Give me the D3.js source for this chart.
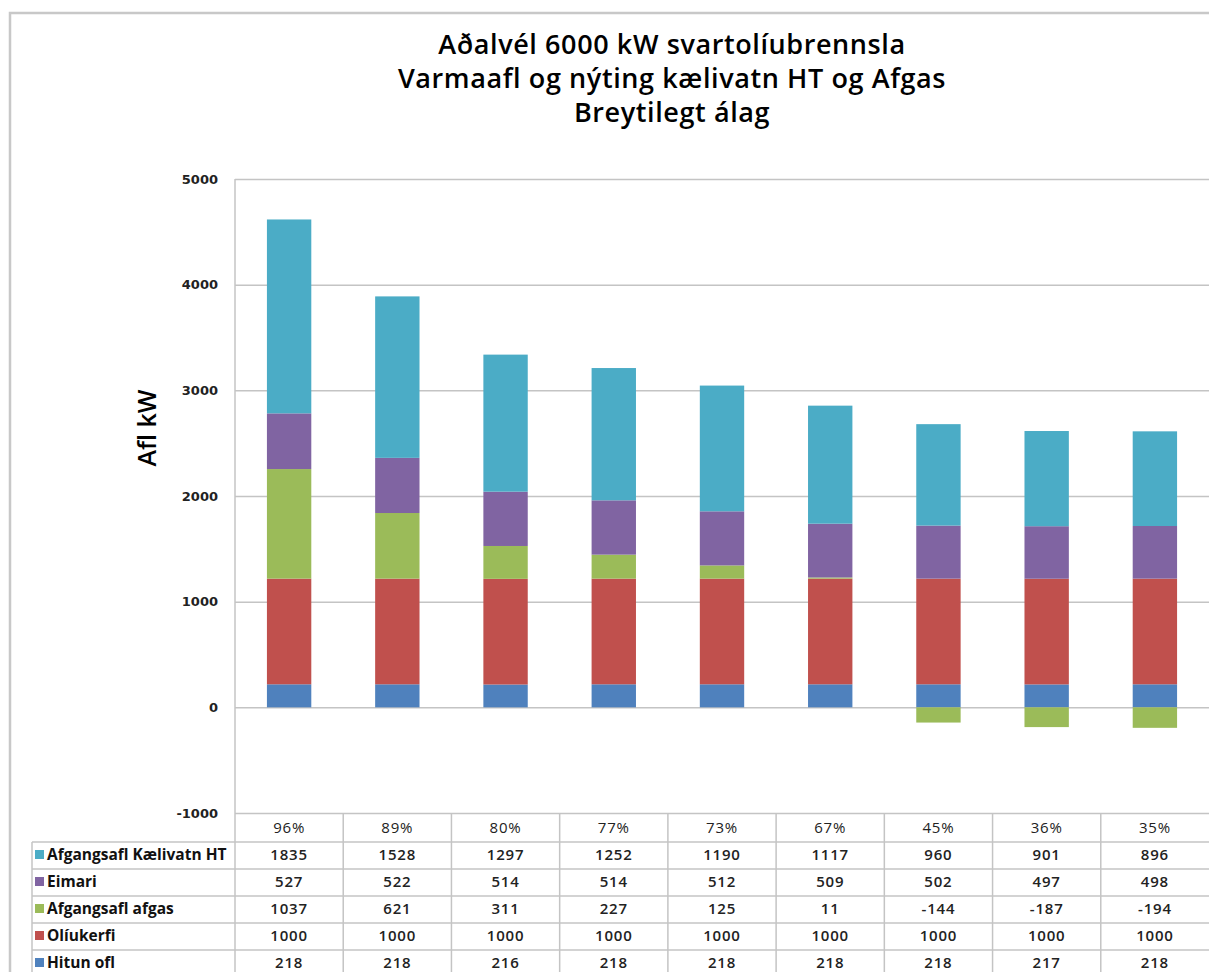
<!doctype html>
<html lang="is">
<head>
    <meta charset="UTF-8">
    <title>Aðalvél 6000 kW svartolíubrennsla</title>
    <script type="text/javascript" src="https://cdn.jsdelivr.net/npm/d3@7"></script>
    <style type="text/css">
        body { margin: 0; background: #fff; }
        svg { display: block; }
        .grid line { stroke: #c4c4c4; stroke-width: 1.5; }
        .grid path { display: none; }
    </style>
</head>
<body>
<script type="text/javascript">
    var categories = ["96%", "89%", "80%", "77%", "73%", "67%", "45%", "36%", "35%"];
    var hitun = [218, 218, 216, 218, 218, 218, 218, 217, 218];
    var oliukerfi = [1000, 1000, 1000, 1000, 1000, 1000, 1000, 1000, 1000];
    var afgas = [1037, 621, 311, 227, 125, 11, -144, -187, -194];
    var eimari = [527, 522, 514, 514, 512, 509, 502, 497, 498];
    var kaelivatn = [1835, 1528, 1297, 1252, 1190, 1117, 960, 901, 896];
    var yTicks = [-1000, 0, 1000, 2000, 3000, 4000, 5000];

    // stacking order, bottom first
    var series = [
        {key: "hitun", name: "Hitun ofl", color: "#4F81BD", values: hitun},
        {key: "olia", name: "Olíukerfi", color: "#C0504D", values: oliukerfi},
        {key: "afgas", name: "Afgangsafl afgas", color: "#9BBB59", values: afgas},
        {key: "eimari", name: "Eimari", color: "#8064A2", values: eimari},
        {key: "kaeli", name: "Afgangsafl Kælivatn HT", color: "#4BACC6", values: kaelivatn}
    ];

    var width = 1209;
    var height = 972;
    var plotL = 235, plotR = 1209, plotT = 179, plotB = 813;

    var svg = d3.select("body").append("svg").attr("width", width).attr("height", height);

    // outer chart border (clipped at right/bottom like the picture)
    svg.append("path")
        .attr("d", "M10,972 V13 H1209")
        .attr("fill", "none").attr("stroke", "#c8c8c8").attr("stroke-width", 2.5);

    // title
    var titleLines = ["Aðalvél 6000 kW svartolíubrennsla", "Varmaafl og nýting kælivatn HT og Afgas", "Breytilegt álag"];
    svg.selectAll("text.title")
        .data(titleLines)
        .enter()
        .append("text")
        .attr("class", "title")
        .attr("x", 672)
        .attr("y", function (d, i) { return 54 + i * 34; })
        .attr("text-anchor", "middle")
        .attr("font-family", "Open Sans")
        .attr("font-weight", 600)
        .attr("font-size", "27px")
        .attr("letter-spacing", "0.6px")
        .attr("fill", "#000")
        .text(function (d) { return d; });

    // scales
    var x = d3.scaleBand().domain(categories).range([plotL, plotR]).padding(0);
    var y = d3.scaleLinear().domain([-1000, 5000]).range([plotB, plotT]);

    // gridlines
    svg.append("g")
        .attr("class", "grid")
        .attr("transform", "translate(" + plotL + ",0)")
        .call(d3.axisLeft(y).tickValues(yTicks).tickSize(-(plotR - plotL)).tickFormat(""));

    // y axis labels (plain hyphen minus like the original)
    var yAxis = svg.append("g")
        .attr("transform", "translate(" + plotL + ",0)")
        .call(d3.axisLeft(y).tickValues(yTicks).tickSize(0).tickPadding(17)
            .tickFormat(function (d) { return String(d); }));
    yAxis.select(".domain").remove();
    yAxis.selectAll("text")
        .attr("font-family", "DejaVu Sans")
        .attr("font-weight", "bold")
        .attr("font-size", "13px")
        .attr("fill", "#222");

    svg.append("text")
        .attr("transform", "translate(156,428) rotate(-90)")
        .attr("text-anchor", "middle")
        .attr("font-family", "Open Sans")
        .attr("font-weight", 600)
        .attr("font-size", "25px")
        .text("Afl kW");

    // stacked bars
    var rows = categories.map(function (c, i) {
        var r = {cat: c};
        series.forEach(function (s) { r[s.key] = s.values[i]; });
        return r;
    });
    var stack = d3.stack()
        .keys(series.map(function (s) { return s.key; }))
        .offset(d3.stackOffsetDiverging);
    var stacked = stack(rows);

    var barW = x.bandwidth() * 0.41;
    svg.append("g").selectAll("g")
        .data(stacked)
        .enter()
        .append("g")
        .attr("fill", function (d, i) { return series[i].color; })
        .selectAll("rect")
        .data(function (d) { return d; })
        .enter()
        .append("rect")
        .attr("x", function (d) { return x(d.data.cat) + (x.bandwidth() - barW) / 2; })
        .attr("y", function (d) { return y(Math.max(d[0], d[1])); })
        .attr("width", barW)
        .attr("height", function (d) { return Math.abs(y(d[0]) - y(d[1])); });

    // axis line
    svg.append("line")
        .attr("x1", plotL).attr("x2", plotL).attr("y1", plotT).attr("y2", height)
        .attr("stroke", "#c4c4c4").attr("stroke-width", 1.5);

    // data table
    var headH = 29, rowH = 27, legLeft = 32;
    var tableTop = plotB;
    var lineColor = "#c4c4c4";

    // vertical column lines
    svg.append("g").selectAll("line")
        .data(categories.slice(1))
        .enter()
        .append("line")
        .attr("x1", function (d) { return x(d); })
        .attr("x2", function (d) { return x(d); })
        .attr("y1", tableTop).attr("y2", height)
        .attr("stroke", lineColor).attr("stroke-width", 1.5);

    svg.append("line")
        .attr("x1", legLeft).attr("x2", legLeft)
        .attr("y1", tableTop + headH).attr("y2", height)
        .attr("stroke", lineColor).attr("stroke-width", 1.5);

    // horizontal row lines
    var tableRows = series.slice().reverse();
    svg.append("g").selectAll("line")
        .data(tableRows)
        .enter()
        .append("line")
        .attr("x1", legLeft).attr("x2", plotR)
        .attr("y1", function (d, i) { return tableTop + headH + i * rowH; })
        .attr("y2", function (d, i) { return tableTop + headH + i * rowH; })
        .attr("stroke", lineColor).attr("stroke-width", 1.5);

    // header percentages
    svg.append("g").selectAll("text")
        .data(categories)
        .enter()
        .append("text")
        .attr("x", function (d) { return x(d) + x.bandwidth() / 2; })
        .attr("y", tableTop + 20)
        .attr("text-anchor", "middle")
        .attr("font-family", "Open Sans")
        .attr("font-size", "15px")
        .attr("letter-spacing", "0.8px")
        .attr("fill", "#222")
        .text(function (d) { return d; });

    // legend keys + values
    var rowG = svg.append("g").selectAll("g")
        .data(tableRows)
        .enter()
        .append("g")
        .attr("transform", function (d, i) { return "translate(0," + (tableTop + headH + i * rowH) + ")"; });

    rowG.append("rect")
        .attr("x", 35).attr("y", 8)
        .attr("width", 9).attr("height", 9)
        .attr("fill", function (d) { return d.color; });

    rowG.append("text")
        .attr("x", 47).attr("y", 18)
        .attr("font-family", "Open Sans")
        .attr("font-weight", "bold")
        .attr("font-size", "15.5px")
        .attr("fill", "#111")
        .text(function (d) { return d.name; });

    rowG.selectAll("text.val")
        .data(function (d) { return d.values; })
        .enter()
        .append("text")
        .attr("class", "val")
        .attr("x", function (d, i) { return x(categories[i]) + x.bandwidth() / 2; })
        .attr("y", 18)
        .attr("text-anchor", "middle")
        .attr("font-family", "Open Sans")
        .attr("font-weight", 600)
        .attr("font-size", "15px")
        .attr("letter-spacing", "0.8px")
        .attr("fill", "#222")
        .text(function (d) { return d; });
</script>
</body>
</html>
